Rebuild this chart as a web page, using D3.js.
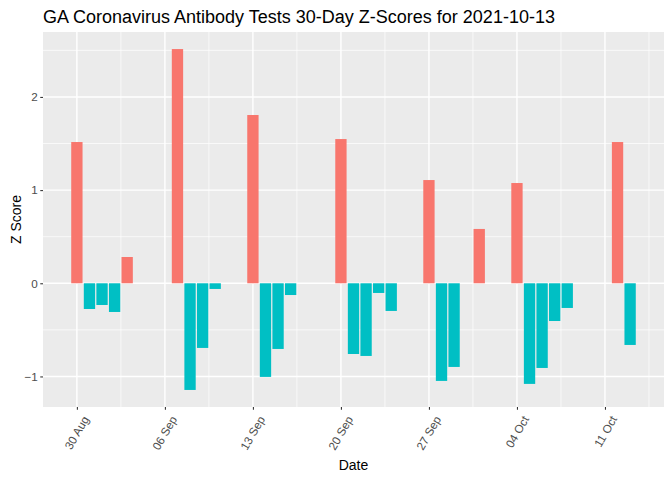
<!DOCTYPE html>
<html lang="en">
<head>
  <meta charset="UTF-8" />
  <title>GA Antibody Tests Z-Scores</title>
  <script src="https://d3js.org/d3.v7.min.js"></script>
  <style>
    body {
      margin: 0;
      background: #ffffff;
    }
    text {
      font-family: 'Liberation Sans', Arial, sans-serif;
    }
  </style>
</head>
<body>
  <div id="chart"></div>

  <script>
    // daily z-scores (weekends / holidays have no bar)
    const dates = [
      "2021-08-30", "2021-08-31", "2021-09-01", "2021-09-02", "2021-09-03",
      "2021-09-07", "2021-09-08", "2021-09-09", "2021-09-10",
      "2021-09-13", "2021-09-14", "2021-09-15", "2021-09-16",
      "2021-09-20", "2021-09-21", "2021-09-22", "2021-09-23", "2021-09-24",
      "2021-09-27", "2021-09-28", "2021-09-29", "2021-10-01",
      "2021-10-04", "2021-10-05", "2021-10-06", "2021-10-07", "2021-10-08",
      "2021-10-12", "2021-10-13"
    ];
    const zScores = [
      1.516, -0.276, -0.233, -0.308, 0.282,
      2.514, -1.145, -0.694, -0.061,
      1.806, -1.005, -0.705, -0.126,
      1.548, -0.759, -0.780, -0.104, -0.297,
      1.108, -1.048, -0.898, 0.583,
      1.076, -1.080, -0.909, -0.405, -0.265,
      1.516, -0.662
    ];
    const xTickDates = ["2021-08-30", "2021-09-06", "2021-09-13", "2021-09-20", "2021-09-27", "2021-10-04", "2021-10-11"];
    const yTicks = [-1, 0, 1, 2];
    const yMinor = [-0.5, 0.5, 1.5, 2.5];

    const W = 672, H = 480;
    const margin = { top: 32, right: 8, bottom: 73, left: 43 };
    const pw = W - margin.left - margin.right;
    const ph = H - margin.top - margin.bottom;
    const DAY = 864e5;

    const parse = d3.utcParse("%Y-%m-%d");
    const rows = dates.map((d, i) => ({ date: parse(d), z: zScores[i] }));

    // ggplot-like 5% expansion around the bars
    const barW = 0.9;
    const xLo = +rows[0].date - barW / 2 * DAY;
    const xHi = +rows[rows.length - 1].date + barW / 2 * DAY;
    const xPad = (xHi - xLo) * 0.05;
    const x = d3.scaleUtc()
      .domain([new Date(xLo - xPad), new Date(xHi + xPad)])
      .range([0, pw]);

    const yExt = d3.extent(zScores);
    const yPad = (yExt[1] - yExt[0]) * 0.05;
    const y = d3.scaleLinear()
      .domain([yExt[0] - yPad, yExt[1] + yPad])
      .range([ph, 0]);

    const svg = d3.select("#chart").append("svg")
      .attr("width", W)
      .attr("height", H);

    const g = svg.append("g")
      .attr("transform", `translate(${margin.left},${margin.top})`);

    g.append("rect")
      .attr("width", pw)
      .attr("height", ph)
      .attr("fill", "#EBEBEB");

    // minor grid
    const xTicks = xTickDates.map(parse);
    const xMinor = [];
    xTicks.forEach(t => {
      [-3.5, 3.5].forEach(o => {
        const v = new Date(+t + o * DAY);
        const px = x(v);
        if (px > 0 && px < pw && !xMinor.some(m => +m === +v)) xMinor.push(v);
      });
    });

    g.selectAll(".ygm").data(yMinor.filter(v => y(v) > 0 && y(v) < ph))
      .enter().append("line")
      .attr("x1", 0).attr("x2", pw)
      .attr("y1", d => y(d)).attr("y2", d => y(d))
      .attr("stroke", "#fff").attr("stroke-width", 0.7);

    g.selectAll(".xgm").data(xMinor)
      .enter().append("line")
      .attr("y1", 0).attr("y2", ph)
      .attr("x1", d => x(d)).attr("x2", d => x(d))
      .attr("stroke", "#fff").attr("stroke-width", 0.7);

    // major grid
    g.selectAll(".yg").data(yTicks)
      .enter().append("line")
      .attr("x1", 0).attr("x2", pw)
      .attr("y1", d => y(d)).attr("y2", d => y(d))
      .attr("stroke", "#fff").attr("stroke-width", 1.4);

    g.selectAll(".xg").data(xTicks)
      .enter().append("line")
      .attr("y1", 0).attr("y2", ph)
      .attr("x1", d => x(d)).attr("x2", d => x(d))
      .attr("stroke", "#fff").attr("stroke-width", 1.4);

    // bars
    const bw = x(new Date(+rows[0].date + barW * DAY)) - x(rows[0].date);
    g.selectAll(".bar").data(rows)
      .enter().append("rect")
      .attr("x", d => x(d.date) - bw / 2)
      .attr("width", bw)
      .attr("y", d => y(Math.max(0, d.z)))
      .attr("height", d => Math.abs(y(d.z) - y(0)))
      .attr("fill", d => d.z >= 0 ? "#F8766D" : "#00BFC4");

    // y axis
    const yAxis = g.append("g")
      .call(d3.axisLeft(y).tickValues(yTicks).tickSize(2.74).tickPadding(2.5).tickFormat(d3.format("d")));
    yAxis.select(".domain").remove();
    yAxis.selectAll("line").attr("stroke", "#333333").attr("stroke-width", 1.07);
    yAxis.selectAll("text")
      .attr("fill", "#4D4D4D")
      .style("font-size", "11.7px");

    // x axis
    const xAxis = g.append("g")
      .attr("transform", `translate(0,${ph})`)
      .call(d3.axisBottom(x).tickValues(xTicks).tickSize(2.74).tickFormat(d3.utcFormat("%d %b")));
    xAxis.select(".domain").remove();
    xAxis.selectAll("line").attr("stroke", "#333333").attr("stroke-width", 1.07);
    xAxis.selectAll("text")
      .attr("fill", "#4D4D4D")
      .style("font-size", "11.7px")
      .attr("text-anchor", "end")
      .attr("dy", null)
      .attr("y", null)
      .attr("transform", "translate(12,12) rotate(-60)");

    // titles
    svg.append("text")
      .attr("x", margin.left)
      .attr("y", 22.5)
      .style("font-size", "18px")
      .attr("fill", "#000")
      .text("GA Coronavirus Antibody Tests 30-Day Z-Scores for 2021-10-13");

    svg.append("text")
      .attr("x", margin.left + pw / 2)
      .attr("y", 470)
      .attr("text-anchor", "middle")
      .style("font-size", "14px")
      .attr("fill", "#000")
      .text("Date");

    svg.append("text")
      .attr("transform", `translate(20.5,${margin.top + ph / 2}) rotate(-90)`)
      .attr("text-anchor", "middle")
      .style("font-size", "14px")
      .attr("fill", "#000")
      .text("Z Score");
  </script>
</body>
</html>
